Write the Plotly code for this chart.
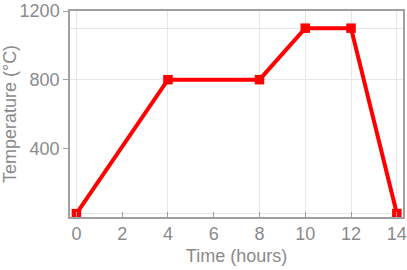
import plotly.graph_objects as go

time_hours = [0, 4, 8, 10, 12, 14]
temperature_c = [20, 800, 800, 1100, 1100, 20]
x_tick_vals = [0, 2, 4, 6, 8, 10, 12, 14]
y_tick_vals = [400, 800, 1200]

gray = "#8a8a8a"
axis_col = "#a0a0a0"
font = dict(family="Liberation Sans, Arial, sans-serif", size=18, color=gray)

fig = go.Figure()
# invisible trace to drive grid axes at data values
fig.add_trace(go.Scatter(x=time_hours, y=temperature_c, mode="markers",
                         marker=dict(opacity=0), xaxis="x2", yaxis="y2",
                         showlegend=False, hoverinfo="skip"))
fig.add_trace(go.Scatter(
    x=time_hours, y=temperature_c, mode="lines+markers",
    line=dict(color="#ff0000", width=4),
    marker=dict(symbol="square", size=9.5, color="#ff0000"),
    xaxis="x", yaxis="y", cliponaxis=False, showlegend=False,
))

xr = [-0.28, 14.27]
yr = [0, 1200]
fig.update_layout(
    width=407, height=270,
    margin=dict(l=70, r=4, t=11, b=53, autoexpand=False),
    paper_bgcolor="white", plot_bgcolor="white",
    font=font,
    xaxis=dict(range=xr, tickvals=x_tick_vals, showgrid=False, zeroline=False,
               showline=True, linecolor=axis_col, linewidth=1.5, mirror=True,
               ticks="inside", ticklen=5, tickcolor=axis_col, automargin=False,
               title=dict(text="Time (hours)", standoff=6, font=font)),
    yaxis=dict(range=yr, tickvals=y_tick_vals, showgrid=False, zeroline=False,
               showline=True, linecolor=axis_col, linewidth=1.5, mirror=True,
               ticks="outside", ticklen=5, tickcolor=axis_col, automargin=False,
               title=dict(text="Temperature (°C)", standoff=4, font=font)),
    xaxis2=dict(range=xr, overlaying="x", tickvals=time_hours, showgrid=True,
                gridcolor="#e6e6e6", gridwidth=1, showticklabels=False,
                ticks="", zeroline=False, showline=False, automargin=False,
                layer="below traces"),
    yaxis2=dict(range=yr, overlaying="y", tickvals=temperature_c, showgrid=True,
                gridcolor="#e6e6e6", gridwidth=1, showticklabels=False,
                ticks="", zeroline=False, showline=False, automargin=False,
                layer="below traces"),
)
fig.write_html("out.html", config={"displayModeBar": False},
               post_script="document.body.style.margin='0';")
